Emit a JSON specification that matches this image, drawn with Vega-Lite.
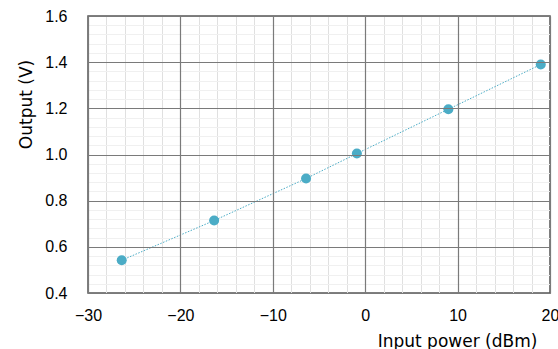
{
  "$schema": "https://vega.github.io/schema/vega-lite/v6.json",
  "autosize": "none",
  "width": 462,
  "height": 277,
  "padding": {"left": 88, "top": 16, "right": 8, "bottom": 56},
  "background": "white",
  "config": {
    "view": {"stroke": "#555555", "strokeWidth": 1.5},
    "font": "Liberation Sans",
    "axis": {"labelFont": "Liberation Sans", "titleFont": "DejaVu Sans"}
  },
  "data": {
    "values": [
      {"power": -26.35, "output": 0.542},
      {"power": -16.35, "output": 0.714},
      {"power": -6.4, "output": 0.896},
      {"power": -0.9, "output": 1.004},
      {"power": 9.0, "output": 1.196},
      {"power": 19.0, "output": 1.39}
    ]
  },
  "layer": [
    {
      "mark": {"type": "line", "color": "#4bacc6", "strokeWidth": 1, "strokeDash": [1.5, 1.5], "zindex": 2},
      "encoding": {
        "x": {
          "field": "power", "type": "quantitative",
          "scale": {"domain": [-30, 20], "nice": false, "zero": false},
          "axis": {
            "orient": "bottom", "zindex": 0,
            "values": [-28, -26, -24, -22, -18, -16, -14, -12, -8, -6, -4, -2, 2, 4, 6, 8, 12, 14, 16, 18],
            "grid": true, "gridColor": "#e0e0e0", "gridWidth": 1,
            "labels": false, "ticks": false, "domain": false, "title": null
          }
        },
        "y": {
          "field": "output", "type": "quantitative",
          "scale": {"domain": [0.4, 1.6], "nice": false, "zero": false},
          "axis": {
            "orient": "left", "zindex": 0,
            "values": [0.44, 0.48, 0.52, 0.56, 0.64, 0.68, 0.72, 0.76, 0.84, 0.88, 0.92, 0.96, 1.04, 1.08, 1.12, 1.16, 1.24, 1.28, 1.32, 1.36, 1.44, 1.48, 1.52, 1.56],
            "grid": true, "gridColor": "#f0f0f0", "gridWidth": 1,
            "labels": false, "ticks": false, "domain": false, "title": null
          }
        }
      }
    },
    {
      "mark": {"type": "point", "filled": true, "color": "#4bacc6", "size": 100, "opacity": 1, "zindex": 3},
      "encoding": {
        "x": {
          "field": "power", "type": "quantitative",
          "scale": {"domain": [-30, 20], "nice": false, "zero": false},
          "axis": {
            "orient": "bottom", "zindex": 1,
            "values": [-30, -20, -10, 0, 10, 20],
            "format": "d",
            "grid": true, "gridColor": "#7a7a7a", "gridWidth": 1.2,
            "ticks": false, "domain": false,
            "labelFontSize": 16, "labelColor": "#000000", "labelPadding": 14, "labelFlush": false,
            "title": "Input power (dBm)", "titleFontSize": 17, "titleFontWeight": "normal", "titleColor": "#000000",
            "titleAnchor": null, "titleAlign": "center", "titleBaseline": "middle", "titleX": 369, "titleY": 48
          }
        },
        "y": {
          "field": "output", "type": "quantitative",
          "scale": {"domain": [0.4, 1.6], "nice": false, "zero": false},
          "axis": {
            "orient": "left", "zindex": 1,
            "values": [0.4, 0.6, 0.8, 1.0, 1.2, 1.4, 1.6],
            "format": ".1f",
            "grid": true, "gridColor": "#7a7a7a", "gridWidth": 1.2,
            "ticks": false, "domain": false,
            "labelFontSize": 16, "labelColor": "#000000", "labelPadding": 21, "labelFlush": false,
            "title": "Output (V)", "titleFontSize": 17, "titleFontWeight": "normal", "titleColor": "#000000",
            "titleAnchor": null, "titleAlign": "center", "titleBaseline": "middle", "titleAngle": -90, "titleX": -62, "titleY": 88
          }
        }
      }
    }
  ],
  "resolve": {"axis": {"x": "independent", "y": "independent"}}
}
